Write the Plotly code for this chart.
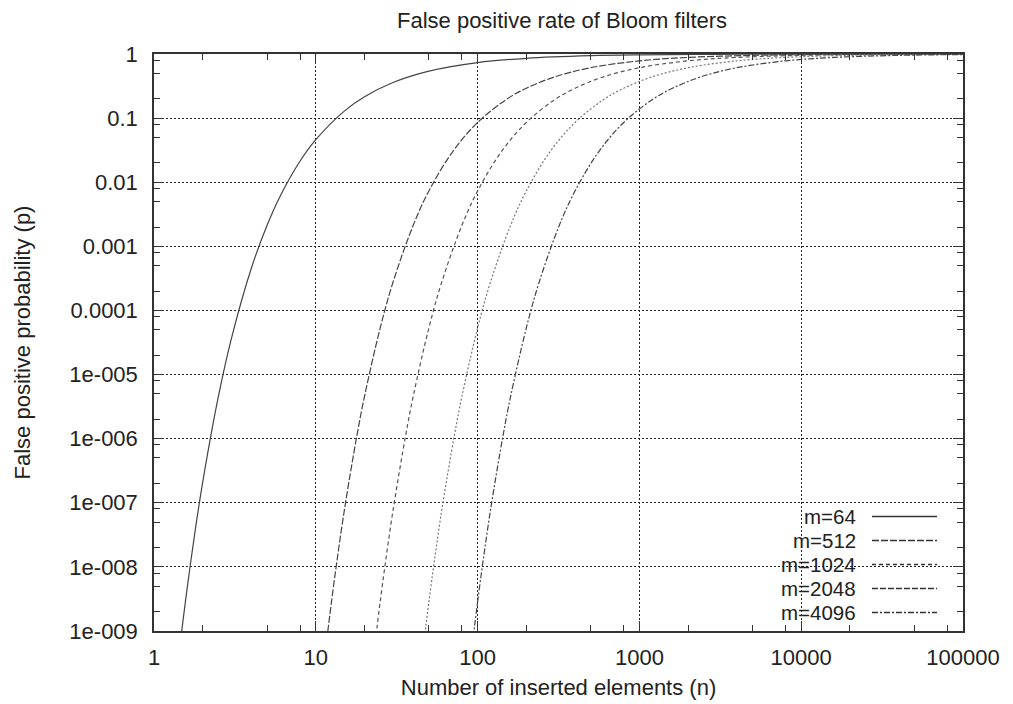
import plotly.graph_objects as go

# ---- data ----
series_names = ["m=64", "m=512", "m=1024", "m=2048", "m=4096"]

n_m64 = [1.45, 1.6, 1.8, 2, 2.5, 3, 4, 5, 6, 8, 10, 15, 20, 30, 50, 100, 200, 500, 1000, 3000, 10000, 100000]
p_m64 = [6.17e-10, 4.51e-9, 3.81e-8, 2.10e-7, 4.55e-6, 3.54e-5, 4.59e-4, 2.13e-3, 5.95e-3, 0.0214, 0.0462,
         0.1287, 0.2149, 0.3588, 0.5407, 0.7353, 0.8575, 0.9404, 0.9697, 0.9898, 0.99693, 0.99969]

n_m512 = [11.5, 12, 13, 15, 18, 20, 25, 30, 40, 50, 70, 100, 150, 200, 300, 500, 1000, 2000, 5000, 10000, 30000, 100000]
p_m512 = [5.13e-10, 1.25e-9, 6.06e-9, 7.55e-8, 1.16e-6, 4.56e-6, 5.33e-5, 2.75e-4, 2.13e-3, 7.30e-3, 0.02977,
          0.0855, 0.1940, 0.2922, 0.4405, 0.6112, 0.7821, 0.8843, 0.9520, 0.9757, 0.99183, 0.99754]

n_m1024 = [23, 24, 26, 30, 36, 40, 50, 60, 80, 100, 140, 200, 300, 400, 600, 1000, 2000, 4000, 10000, 20000, 60000, 100000]
p_m1024 = [5.13e-10, 1.25e-9, 6.06e-9, 7.55e-8, 1.16e-6, 4.56e-6, 5.33e-5, 2.75e-4, 2.13e-3, 7.30e-3, 0.02977,
           0.0855, 0.1940, 0.2922, 0.4405, 0.6112, 0.7821, 0.8843, 0.9520, 0.9757, 0.99183, 0.99509]

n_m2048 = [46, 48, 52, 60, 72, 80, 100, 120, 160, 200, 280, 400, 600, 800, 1200, 2000, 4000, 8000, 20000, 40000, 100000]
p_m2048 = [5.13e-10, 1.25e-9, 6.06e-9, 7.55e-8, 1.16e-6, 4.56e-6, 5.33e-5, 2.75e-4, 2.13e-3, 7.30e-3, 0.02977,
           0.0855, 0.1940, 0.2922, 0.4405, 0.6112, 0.7821, 0.8843, 0.9520, 0.9757, 0.99021]

n_m4096 = [92, 96, 104, 120, 144, 160, 200, 240, 320, 400, 560, 800, 1200, 1600, 2400, 4000, 8000, 16000, 40000, 80000, 100000]
p_m4096 = [5.13e-10, 1.25e-9, 6.06e-9, 7.55e-8, 1.16e-6, 4.56e-6, 5.33e-5, 2.75e-4, 2.13e-3, 7.30e-3, 0.02977,
           0.0855, 0.1940, 0.2922, 0.4405, 0.6112, 0.7821, 0.8843, 0.9520, 0.9757, 0.98051]

x_tickvals = [1, 10, 100, 1000, 10000, 100000]
x_ticktext = ["1", "10", "100", "1000", "10000", "100000"]
y_tickvals = [1, 0.1, 0.01, 0.001, 0.0001, 1e-5, 1e-6, 1e-7, 1e-8, 1e-9]
y_ticktext = ["1", "0.1", "0.01", "0.001", "0.0001", "1e-005", "1e-006", "1e-007", "1e-008", "1e-009"]
x_minor = [2, 5, 8, 20, 50, 80, 200, 500, 800, 2000, 5000, 8000, 20000, 50000, 80000]
y_minor = [m * 10.0 ** e for e in range(-9, 0) for m in (2, 5, 8)]

# ---- styles ----
FONT = "Liberation Sans, Arial, sans-serif"
curve_dash = ["solid", "7px,2px", "4px,3px", "2px,2px", "6px,2px,2px,2px"]
legend_dash = ["solid", "7px,2px", "4px,3px", "6px,2px", "6px,2px,2px,2px"]
curve_color = ["#444444", "#444444", "#555555", "#777777", "#444444"]

all_n = [n_m64, n_m512, n_m1024, n_m2048, n_m4096]
all_p = [p_m64, p_m512, p_m1024, p_m2048, p_m4096]

fig = go.Figure()
for name, xs, ys, d, c in zip(series_names, all_n, all_p, curve_dash, curve_color):
    fig.add_trace(go.Scatter(x=xs, y=ys, mode="lines", name=name, showlegend=False,
                             line=dict(color=c, width=1.2, dash=d, shape="spline", smoothing=1.0)))

axis_common = dict(
    type="log", showline=True, linecolor="#333333", linewidth=1.5, mirror="allticks",
    ticks="inside", ticklen=10, tickwidth=1, tickcolor="#333333",
    showgrid=True, gridcolor="#222222", gridwidth=1, griddash="2px,2px",
    zeroline=False, tickfont=dict(family=FONT, size=22, color="#222222"),
    automargin=False,
)

fig.update_xaxes(range=[0, 5], tickmode="array", tickvals=x_tickvals, ticktext=x_ticktext,
                 ticklabelstandoff=6,
                 title=dict(text="Number of inserted elements (n)", font=dict(family=FONT, size=22, color="#222222"),
                            standoff=10),
                 minor=dict(tickmode="array", tickvals=x_minor, ticks="inside", ticklen=6,
                            tickcolor="#333333", showgrid=False),
                 **axis_common)
fig.update_yaxes(range=[-9, 0], tickmode="array", tickvals=y_tickvals, ticktext=y_ticktext,
                 ticklabelstandoff=10,
                 title=dict(text="False positive probability (p)", font=dict(family=FONT, size=22, color="#222222"),
                            standoff=33),
                 minor=dict(tickmode="array", tickvals=y_minor, ticks="inside", ticklen=6,
                            tickcolor="#333333", showgrid=False),
                 **axis_common)

# legend box (white) covering the grid, like gnuplot's key
fig.add_shape(type="rect", xref="paper", yref="paper", x0=0.7676, x1=0.9815, y0=0.0, y1=0.2149,
              fillcolor="white", line=dict(width=0), layer="between")

legend_rows = [0.1984, 0.1568, 0.1153, 0.0737, 0.0321]
for name, yy, d, c in zip(series_names, legend_rows, legend_dash, curve_color):
    fig.add_annotation(x=0.8702, y=yy, xref="paper", yref="paper", text=name, showarrow=False,
                       xanchor="right", yanchor="middle",
                       font=dict(family=FONT, size=20.5, color="#222222"))
    fig.add_shape(type="line", xref="paper", yref="paper", x0=0.8875, x1=0.9679, y0=yy, y1=yy,
                  line=dict(color="#333333", width=1.5, dash=d))

# the page places the figure 8px from the top-left corner, so the figure is 8px smaller
fig.update_layout(
    width=1005, height=696,
    margin=dict(l=146, r=50, t=46, b=73, autoexpand=False),
    paper_bgcolor="white", plot_bgcolor="white",
    title=dict(text="False positive rate of Bloom filters", x=0.5513, xanchor="center", y=0.982, yanchor="middle",
               font=dict(family=FONT, size=22, color="#222222")),
    showlegend=False,
)

fig.write_html("out.html")
